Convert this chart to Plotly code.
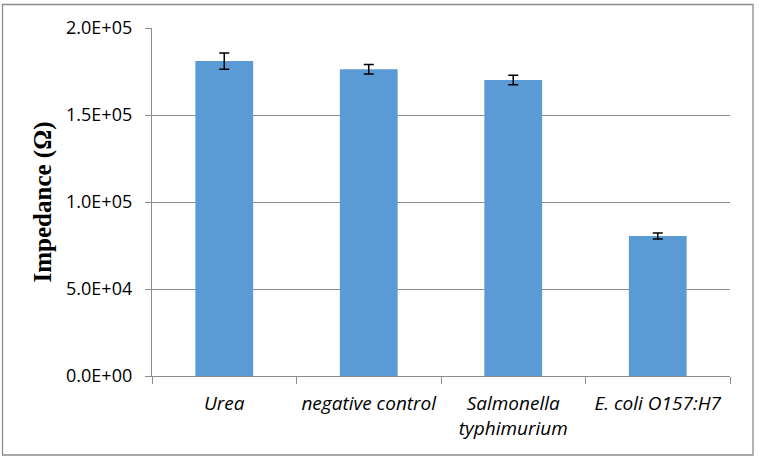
import plotly.graph_objects as go

categories = ["Urea", "negative control", "Salmonella<br>typhimurium", "E. coli O157:H7"]
impedance = [181000, 176300, 170100, 80500]
errors = [4700, 2700, 2700, 1700]
tick_vals = [0, 50000, 100000, 150000, 200000]
tick_text = ["0.0E+00", "5.0E+04", "1.0E+05", "1.5E+05", "2.0E+05"]

W, H = 759, 459
L, R, T, B = 152, 730, 28, 376

fig = go.Figure()
fig.add_trace(go.Bar(
    x=categories, y=impedance,
    marker=dict(color="#5B9BD5", line=dict(width=0)),
    error_y=dict(type="data", array=errors, visible=True, color="black", thickness=1.5, width=5),
    width=0.4,
))

def px_x(p):
    return (p - L) / (R - L)

def px_y(p):
    return (B - p) / (B - T)

fig.add_shape(type="rect", xref="paper", yref="paper",
              x0=px_x(2.5), x1=px_x(753), y0=px_y(455), y1=px_y(4.5),
              line=dict(color="#8C8C8C", width=1.3), fillcolor="rgba(0,0,0,0)", layer="below")

fig.update_layout(
    width=W, height=H,
    margin=dict(l=L, r=W - R, t=T, b=H - B, pad=0),
    paper_bgcolor="white", plot_bgcolor="white",
    showlegend=False,
    font=dict(family="Liberation Sans, Arial, sans-serif", color="black"),
    xaxis=dict(
        automargin=False,
        showline=True, linecolor="#8C8C8C", linewidth=1.3,
        ticks="outside", tickson="boundaries", ticklen=7, tickcolor="#8C8C8C", tickwidth=1.3,
        tickangle=0,
        tickfont=dict(family="Open Sans, sans-serif", size=19, style="italic", color="black"),
        ticklabelstandoff=10,
        showgrid=False,
    ),
    yaxis=dict(
        automargin=False,
        range=[0, 200000],
        tickvals=tick_vals, ticktext=tick_text,
        showline=True, linecolor="#8C8C8C", linewidth=1.3,
        ticks="outside", ticklen=6, tickcolor="#8C8C8C", tickwidth=1.3,
        showgrid=True, gridcolor="#8C8C8C", gridwidth=1.3,
        zeroline=False,
        tickfont=dict(family="Open Sans, sans-serif", size=18, color="black"),
        ticklabelstandoff=9,
        title=dict(text="Impedance (Ω)", font=dict(family="Liberation Serif, Times New Roman, serif", size=25, weight="bold", color="black"), standoff=7),
    ),
)

fig.write_html("out.html", config={"displayModeBar": False},
               post_script="document.body.style.margin='0';document.body.style.overflow='hidden';")
